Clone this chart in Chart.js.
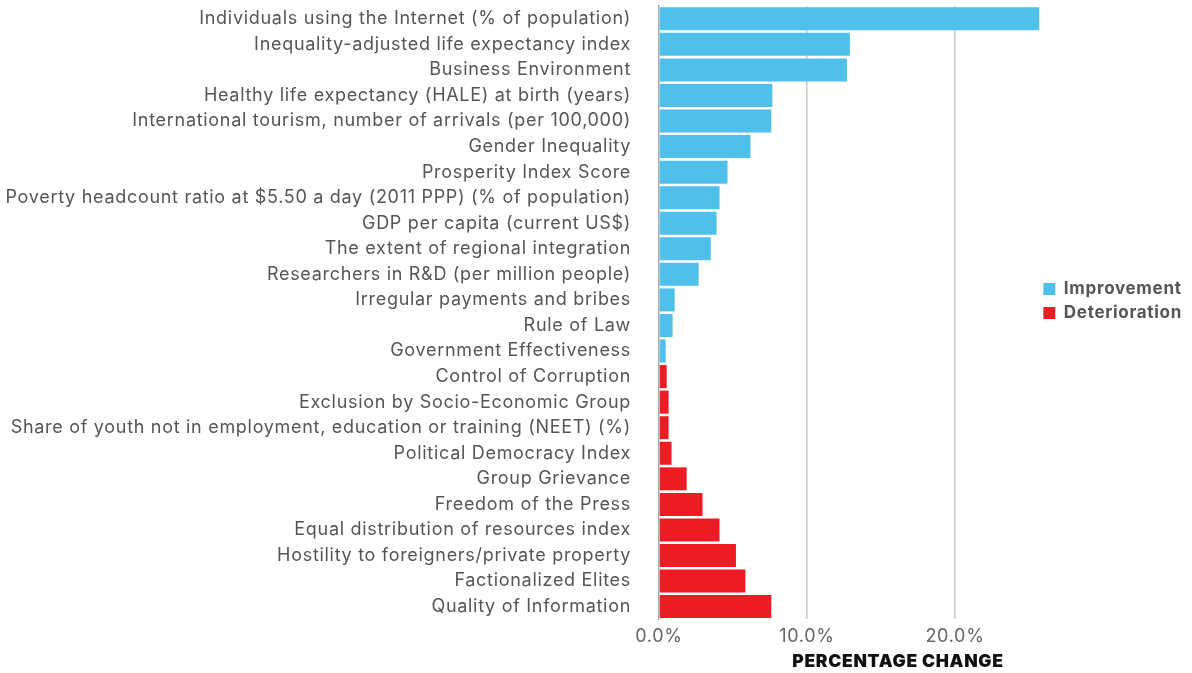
<!DOCTYPE html>
<html>
<head>
<meta charset="utf-8">
<script src="https://cdn.jsdelivr.net/npm/chart.js@4"></script>
<style>
  html, body { margin: 0; padding: 0; background: #fff; }
  #wrap { width: 1192px; height: 673px; }
</style>
</head>
<body>
<div id="wrap"><canvas id="myChart"></canvas></div>
<script>
// indicators, top to bottom
const labels = [
  "Individuals using the Internet (% of population)",
  "Inequality-adjusted life expectancy index",
  "Business Environment",
  "Healthy life expectancy (HALE) at birth (years)",
  "International tourism, number of arrivals (per 100,000)",
  "Gender Inequality",
  "Prosperity Index Score",
  "Poverty headcount ratio at $5.50 a day (2011 PPP) (% of population)",
  "GDP per capita (current US$)",
  "The extent of regional integration",
  "Researchers in R&D (per million people)",
  "Irregular payments and bribes",
  "Rule of Law",
  "Government Effectiveness",
  "Control of Corruption",
  "Exclusion by Socio-Economic Group",
  "Share of youth not in employment, education or training (NEET) (%)",
  "Political Democracy Index",
  "Group Grievance",
  "Freedom of the Press",
  "Equal distribution of resources index",
  "Hostility to foreigners/private property",
  "Factionalized Elites",
  "Quality of Information"
];

// percentage change (absolute), null where the indicator is in the other group
const improvement = [25.7, 12.9, 12.7, 7.66, 7.59, 6.18, 4.63, 4.09, 3.89, 3.5, 2.68, 1.06, 0.92, 0.45,
  null, null, null, null, null, null, null, null, null, null];
const deterioration = [null, null, null, null, null, null, null, null, null, null, null, null, null, null,
  0.52, 0.65, 0.65, 0.85, 1.87, 2.94, 4.09, 5.2, 5.84, 7.59];

const xTicks = [0, 10, 20];

const fontFamily = "Inter, 'Noto Sans', sans-serif";
const spacing = '0.7px';

// wider letter spacing to get closer to the original typeface
const letterSpacing = {
  id: 'letterSpacing',
  beforeLayout(chart) { chart.ctx.letterSpacing = spacing; },
  beforeDraw(chart) { chart.ctx.letterSpacing = spacing; }
};

// legend sits a little above the middle in the original
const legendShift = {
  id: 'legendShift',
  afterLayout(chart) {
    if (chart.legend) chart.legend.bottom -= 57;
  }
};

// axis title drawn under the ticks
const axisTitle = {
  id: 'axisTitle',
  afterDraw(chart) {
    const c = chart.ctx;
    const x = chart.scales.x;
    c.save();
    c.letterSpacing = spacing;
    c.font = "900 17.5px " + fontFamily;
    c.fillStyle = "#111";
    c.textAlign = "center";
    c.textBaseline = "middle";
    c.fillText("PERCENTAGE CHANGE", x.getPixelForValue(16.15), 662);
    c.restore();
  }
};

var ctx = document.getElementById("myChart").getContext("2d");
var myChart = new Chart(ctx, {
  type: 'bar',
  data: {
    labels: labels,
    datasets: [{
      label: 'Improvement',
      data: improvement,
      backgroundColor: '#4FC0EA',
      barPercentage: 0.9,
      categoryPercentage: 1,
      grouped: false,
      clip: false
    }, {
      label: 'Deterioration',
      data: deterioration,
      backgroundColor: '#ED1C24',
      barPercentage: 0.9,
      categoryPercentage: 1,
      grouped: false,
      clip: false
    }]
  },
  options: {
    indexAxis: 'y',
    responsive: true,
    maintainAspectRatio: false,
    animation: false,
    layout: { padding: { top: 6, bottom: 20, left: 0, right: 0 } },
    plugins: {
      tooltip: { enabled: false },
      legend: {
        position: 'right',
        labels: {
          boxWidth: 12,
          boxHeight: 12,
          padding: 7,
          color: '#555',
          font: { family: fontFamily, size: 17, weight: 'bold' }
        }
      }
    },
    scales: {
      x: {
        min: 0,
        max: 25.5,
        afterBuildTicks(axis) {
          axis.ticks = xTicks.map(v => ({ value: v }));
        },
        afterFit(axis) {
          axis.paddingLeft = 0;
          axis.paddingRight = 0;
        },
        grid: {
          color: ctx => ctx.tick && ctx.tick.value === 0 ? 'rgba(0,0,0,0)' : '#c8c8c8',
          lineWidth: 1.5,
          drawTicks: false
        },
        border: { display: false },
        ticks: {
          color: '#666',
          padding: 6,
          maxRotation: 0,
          font: { family: fontFamily, size: 18 },
          callback: v => v.toFixed(1) + '%'
        }
      },
      y: {
        afterFit(axis) {
          axis.width = 659;
          axis.paddingTop = 0;
          axis.paddingBottom = 0;
        },
        grid: { display: false, drawTicks: false },
        border: { display: true, color: '#aaa', width: 1.5 },
        ticks: {
          autoSkip: false,
          color: '#555',
          padding: 28,
          font: { family: fontFamily, size: 18 }
        }
      }
    }
  },
  plugins: [letterSpacing, legendShift, axisTitle]
});
</script>
</body>
</html>
